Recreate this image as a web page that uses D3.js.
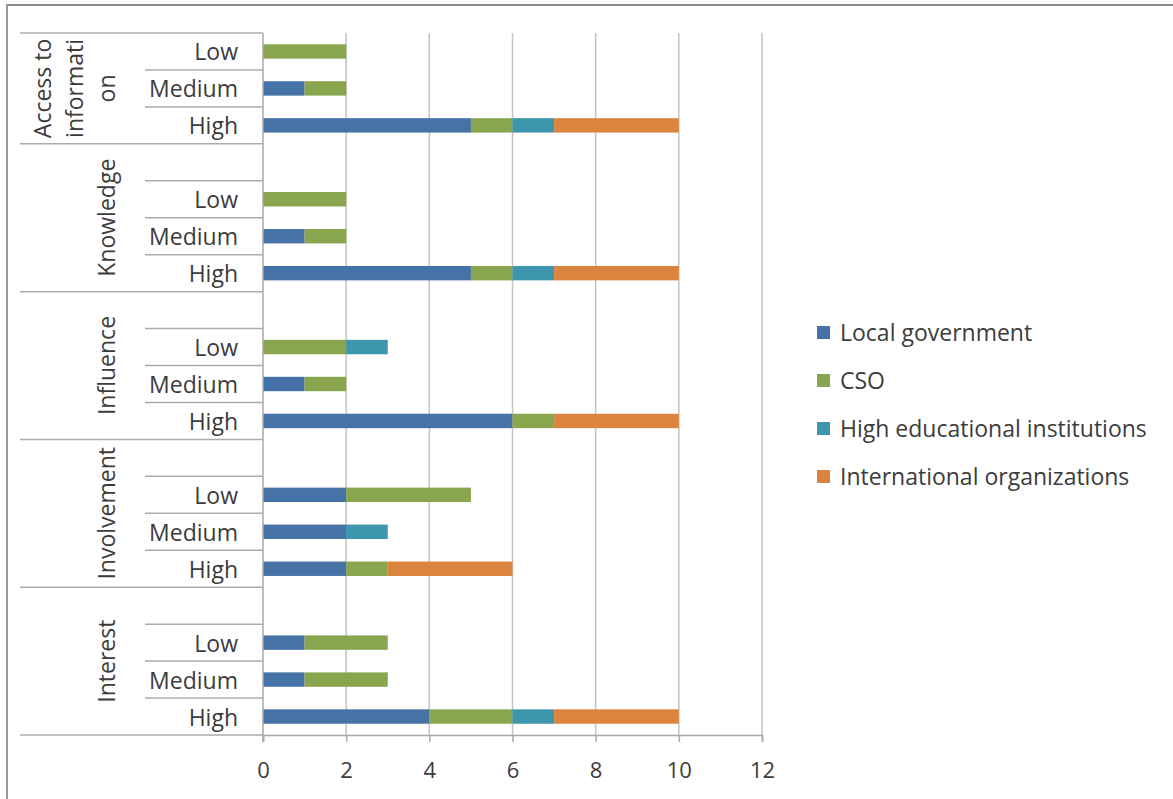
<!DOCTYPE html>
<html>
<head>
<meta charset="utf-8">
<script src="https://cdn.jsdelivr.net/npm/d3@7"></script>
<style>
  html, body { margin: 0; padding: 0; background: #fff; }
  svg { display: block; font-family: "Open Sans", Lato, sans-serif; }
</style>
</head>
<body>
<svg id="chart" width="1173" height="799"></svg>
<script>
// Groups of the category axis and their rows (top to bottom); "" is an empty spacer row
const groups = ["Access to information", "Knowledge", "Influence", "Involvement", "Interest"];
const groupLines = [["Access to", "informati", "on"], ["Knowledge"], ["Influence"], ["Involvement"], ["Interest"]];
const groupLevels = [
  ["Low", "Medium", "High"],
  ["", "Low", "Medium", "High"],
  ["", "Low", "Medium", "High"],
  ["", "Low", "Medium", "High"],
  ["", "Low", "Medium", "High"]
];

// Series values, one entry per row in the same top-to-bottom order
const seriesNames = ["Local government", "CSO", "High educational institutions", "International organizations"];
const localGovernment = [0, 1, 5,  0, 0, 1, 5,  0, 0, 1, 6,  0, 2, 2, 2,  0, 1, 1, 4];
const cso             = [2, 1, 1,  0, 2, 1, 1,  0, 2, 1, 1,  0, 3, 0, 1,  0, 2, 2, 2];
const highEducational = [0, 0, 1,  0, 0, 0, 1,  0, 1, 0, 0,  0, 0, 1, 0,  0, 0, 0, 1];
const international   = [0, 0, 3,  0, 0, 0, 3,  0, 0, 0, 3,  0, 0, 0, 3,  0, 0, 0, 3];
const seriesColors = ["#4572a7", "#89a54e", "#3d96ae", "#db843d"];

const xTicks = [0, 2, 4, 6, 8, 10, 12];

// Build the row table
const rows = [];
groupLevels.forEach((levels, gi) => {
  levels.forEach((lvl, li) => {
    rows.push({ id: gi + "-" + li, group: gi, level: lvl, first: li === 0 });
  });
});
const seriesValues = [localGovernment, cso, highEducational, international];
rows.forEach((r, i) => { seriesNames.forEach((s, k) => { r[s] = seriesValues[k][i]; }); });

const svg = d3.select("#chart");
const fontSize = 23;
const textColor = "#3c3c3c";

// Frame edges
svg.append("line").attr("x1", 6).attr("x2", 1173).attr("y1", 5).attr("y2", 5)
  .attr("stroke", "#8a8a8a").attr("stroke-width", 2);
svg.append("line").attr("x1", 7).attr("x2", 7).attr("y1", 5).attr("y2", 799)
  .attr("stroke", "#9a9a9a").attr("stroke-width", 2);

const plot = { left: 263, right: 762, top: 33, bottom: 735 };
const x = d3.scaleLinear().domain([0, 12]).range([plot.left, plot.right]);
const y = d3.scaleBand().domain(rows.map(r => r.id))
  .range([plot.top, plot.bottom]).paddingInner(0.61).paddingOuter(0.305);
const step = y.step();

// Vertical gridlines
svg.append("g").selectAll("line").data(xTicks.slice(1)).join("line")
  .attr("x1", d => x(d)).attr("x2", d => x(d))
  .attr("y1", plot.top).attr("y2", plot.bottom)
  .attr("stroke", "#c3c3c3").attr("stroke-width", 1.5);

// Stacked bars
const stack = d3.stack().keys(seriesNames);
const layers = stack(rows);
svg.append("g").selectAll("g").data(layers).join("g")
  .attr("fill", (d, i) => seriesColors[i])
  .selectAll("rect").data(d => d.filter(p => p[1] - p[0] > 0)).join("rect")
  .attr("x", d => x(d[0]))
  .attr("width", d => x(d[1]) - x(d[0]))
  .attr("y", d => y(d.data.id))
  .attr("height", y.bandwidth());

// Category axis: separators between rows and between groups
const sep = svg.append("g").attr("stroke", "#ababab").attr("stroke-width", 1.5);
rows.forEach((r, i) => {
  const top = plot.top + i * step;
  sep.append("line").attr("x1", r.first ? 20 : 145).attr("x2", plot.left).attr("y1", top).attr("y2", top);
});
sep.append("line").attr("x1", 20).attr("x2", plot.left).attr("y1", plot.bottom).attr("y2", plot.bottom);

// Axis lines
const axisColor = "#a8a8a8";
svg.append("line").attr("x1", plot.left).attr("x2", plot.left).attr("y1", plot.top).attr("y2", plot.bottom + 7)
  .attr("stroke", axisColor).attr("stroke-width", 1.5);

const xAxis = svg.append("g").attr("transform", `translate(0,${plot.bottom})`)
  .call(d3.axisBottom(x).tickValues(xTicks).tickSize(7).tickPadding(20).tickFormat(d3.format("d")));
xAxis.select(".domain").attr("stroke", axisColor).attr("stroke-width", 1.5);
xAxis.selectAll(".tick line").attr("stroke", axisColor).attr("stroke-width", 1.5);
xAxis.selectAll(".tick text").attr("fill", textColor).attr("font-size", fontSize - 1)
  .attr("font-family", "'Open Sans', sans-serif");

// Row labels
svg.append("g").selectAll("text").data(rows.filter(r => r.level)).join("text")
  .attr("x", 238)
  .attr("y", r => y(r.id) + y.bandwidth() / 2)
  .attr("text-anchor", "end").attr("dominant-baseline", "central")
  .attr("font-size", fontSize).attr("fill", textColor)
  .text(r => r.level);

// Group labels, rotated
groupLines.forEach((lines, gi) => {
  const gRows = rows.filter(r => r.group === gi);
  const yTop = plot.top + rows.indexOf(gRows[0]) * step;
  const yBot = yTop + gRows.length * step;
  const cy = (yTop + yBot) / 2;
  const lineGap = 32;
  lines.forEach((t, li) => {
    const cx = 106 - (lines.length - 1 - li) * lineGap;
    svg.append("text")
      .attr("transform", `translate(${cx},${cy}) rotate(-90)`)
      .attr("text-anchor", "middle").attr("dominant-baseline", "central")
      .attr("font-size", fontSize).attr("fill", textColor)
      .text(t);
  });
});

// Legend
const legend = svg.append("g").attr("transform", "translate(817,332)");
seriesNames.forEach((s, i) => {
  const g = legend.append("g").attr("transform", `translate(0,${i * 48})`);
  g.append("rect").attr("x", 0).attr("y", -6).attr("width", 13).attr("height", 13).attr("fill", seriesColors[i]);
  g.append("text").attr("x", 23).attr("y", 0).attr("dominant-baseline", "central")
    .attr("font-size", fontSize).attr("fill", textColor).text(s);
});
</script>
</body>
</html>
